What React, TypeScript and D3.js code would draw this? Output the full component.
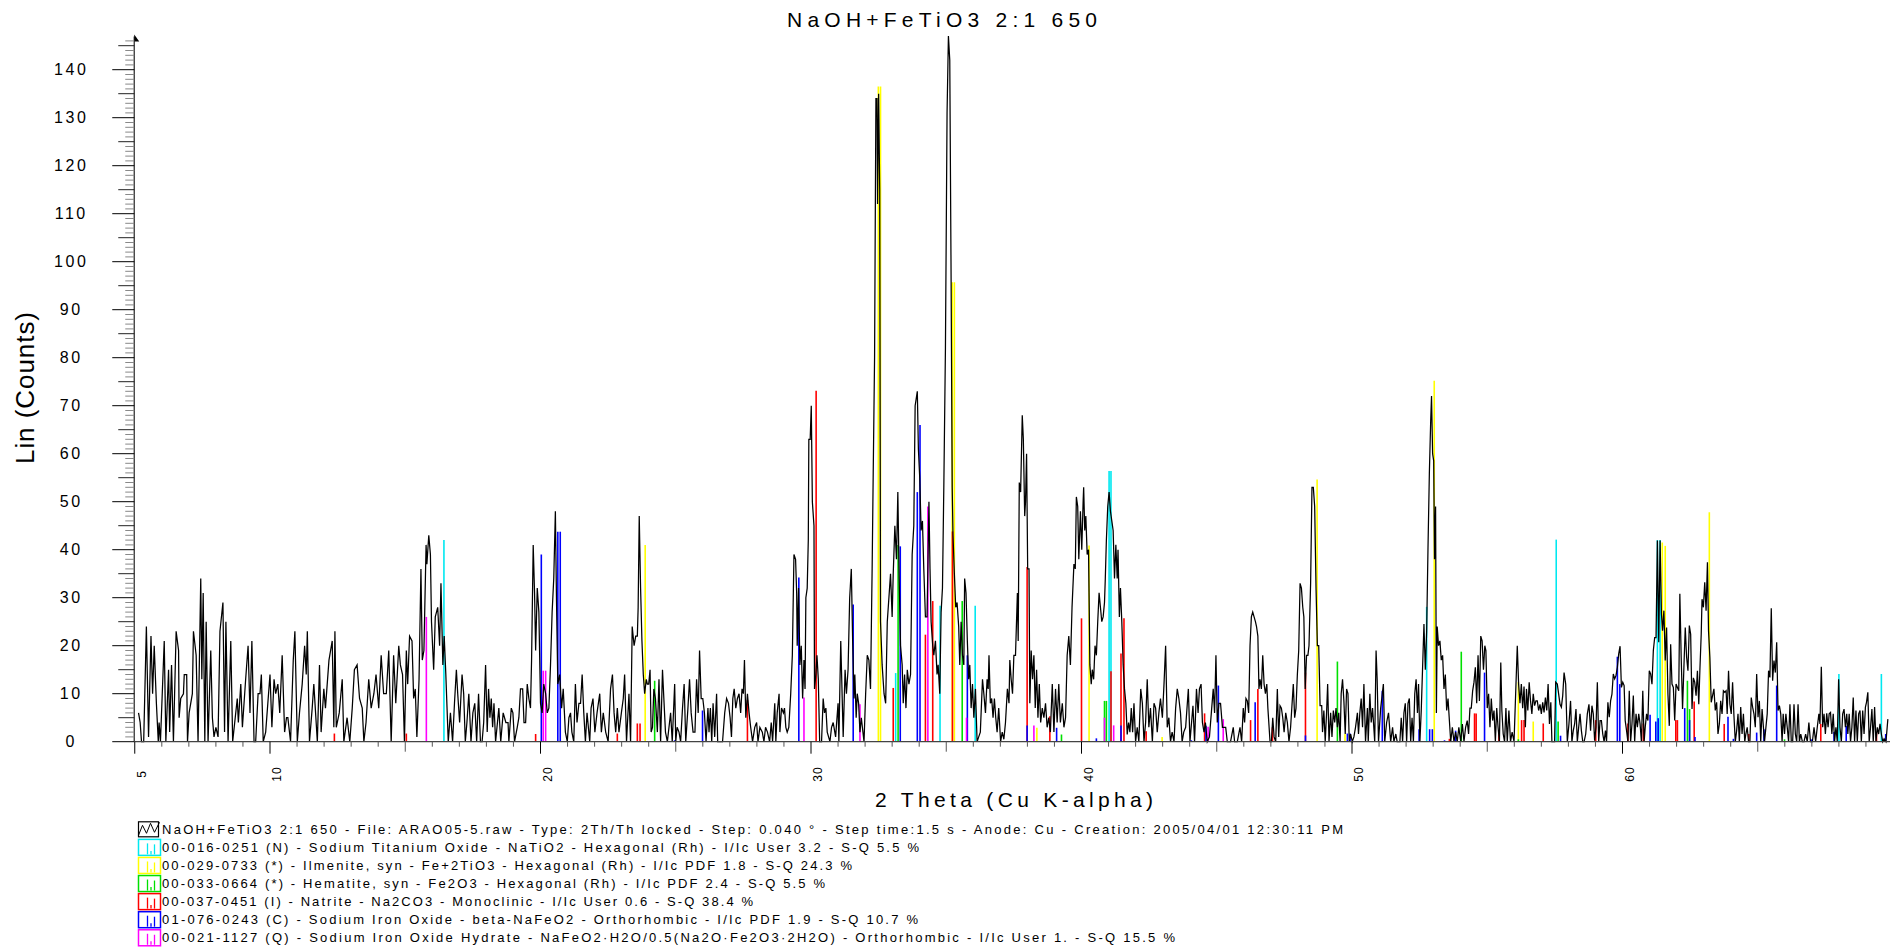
import React from "react";
import * as d3 from "d3";

const FONT = "'Liberation Sans', Arial, Helvetica, sans-serif";

// ---------- text ----------
const chartTitle = "NaOH+FeTiO3 2:1 650";
const xAxisTitle = "2 Theta (Cu K-alpha)";
const yAxisTitle = "Lin (Counts)";
const xTickLabels = [5, 10, 20, 30, 40, 50, 60];
const yTickLabels = [0, 10, 20, 30, 40, 50, 60, 70, 80, 90, 100, 110, 120, 130, 140];

// ---------- measured scan, [2-theta, counts] ----------
const scan05to18: [number, number][] = [
  [5.14, 6], [5.2, 4], [5.25, 0], [5.33, 0], [5.43, 24], [5.51, 1], [5.6, 22], [5.66, 10], [5.72, 20], [5.8, 8],
  [5.87, 0], [5.9, 4], [5.95, 0], [6.09, 21], [6.15, 0], [6.25, 15], [6.29, 2], [6.36, 16], [6.43, 0], [6.53, 23],
  [6.62, 19], [6.64, 5], [6.7, 9], [6.8, 10], [6.83, 14], [6.92, 14], [6.95, 0], [7.01, 6], [7.13, 10], [7.17, 23],
  [7.27, 18], [7.34, 0], [7.44, 34], [7.48, 13], [7.53, 31], [7.59, 0], [7.64, 25], [7.71, 0], [7.81, 19], [7.87, 5],
  [7.93, 1], [8.0, 3], [8.08, 1], [8.15, 23], [8.26, 29], [8.32, 2], [8.37, 25], [8.45, 0], [8.55, 21], [8.62, 0],
  [8.79, 9], [8.83, 4], [8.92, 12], [8.98, 3], [9.1, 13], [9.19, 20], [9.26, 6], [9.33, 21], [9.41, 0], [9.47, 0],
  [9.56, 10], [9.63, 10], [9.68, 14], [9.75, 0], [9.84, 2], [9.92, 8], [10.0, 14], [10.07, 3], [10.15, 13], [10.21, 10],
  [10.29, 12], [10.36, 6], [10.45, 18], [10.54, 2], [10.61, 5], [10.66, 5], [10.76, 0], [10.86, 17], [10.92, 23], [11.01, 0],
  [11.09, 6], [11.19, 12], [11.28, 20], [11.34, 14], [11.38, 23], [11.46, 0], [11.56, 7], [11.62, 12], [11.75, 0], [11.83, 16],
  [11.89, 2], [11.99, 11], [12.05, 7], [12.18, 17], [12.3, 21], [12.36, 3], [12.4, 23], [12.45, 3], [12.56, 6], [12.67, 13],
  [12.73, 0], [12.85, 5], [12.95, 0], [13.04, 7], [13.12, 15], [13.22, 16], [13.31, 9], [13.41, 7], [13.47, 0], [13.55, 4],
  [13.65, 13], [13.74, 7], [13.84, 10], [13.92, 14], [14.02, 7], [14.11, 18], [14.2, 10], [14.3, 10], [14.39, 19], [14.48, 0],
  [14.57, 18], [14.65, 8], [14.76, 20], [14.82, 16], [14.9, 14], [14.97, 0], [15.04, 19], [15.09, 12], [15.16, 22], [15.25, 21],
  [15.31, 9], [15.37, 11], [15.43, 1], [15.51, 13], [15.58, 36], [15.63, 17], [15.69, 19], [15.77, 41], [15.8, 37], [15.87, 43],
  [15.93, 39], [15.97, 25], [16.05, 15], [16.11, 26], [16.2, 28], [16.27, 20], [16.32, 33], [16.39, 16], [16.44, 22], [16.5, 14],
  [16.59, 0], [16.67, 6], [16.75, 0], [16.82, 8], [16.89, 15], [16.94, 10], [17.01, 4], [17.1, 14], [17.16, 10], [17.22, 0],
  [17.28, 4], [17.35, 10], [17.43, 0], [17.5, 6], [17.57, 8], [17.64, 0], [17.71, 10], [17.78, 0], [17.84, 0], [17.9, 4],
];

const scan18to31: [number, number][] = [
  [17.97, 16], [18.03, 2], [18.08, 11], [18.13, 5], [18.18, 9], [18.23, 3], [18.28, 8], [18.34, 0], [18.46, 7], [18.53, 0],
  [18.62, 6], [18.72, 4], [18.8, 4], [18.83, 0], [18.92, 7], [18.98, 6], [19.04, 0], [19.14, 3], [19.2, 5], [19.26, 11],
  [19.34, 11], [19.39, 4], [19.45, 4], [19.51, 12], [19.57, 9], [19.63, 7], [19.67, 17], [19.73, 41], [19.78, 31], [19.82, 19],
  [19.88, 32], [19.94, 27], [20.0, 8], [20.06, 6], [20.12, 12], [20.19, 10], [20.25, 6], [20.31, 7], [20.37, 16], [20.43, 27],
  [20.49, 34], [20.55, 48], [20.59, 30], [20.64, 12], [20.71, 14], [20.78, 7], [20.84, 11], [20.92, 2], [20.99, 0], [21.05, 5],
  [21.11, 6], [21.16, 2], [21.23, 0], [21.29, 12], [21.35, 4], [21.42, 8], [21.48, 8], [21.54, 14], [21.6, 6], [21.66, 0],
  [21.72, 6], [21.82, 0], [21.87, 7], [21.94, 9], [22.01, 2], [22.09, 6], [22.19, 10], [22.25, 2], [22.32, 6], [22.41, 2],
  [22.5, 0], [22.59, 11], [22.66, 14], [22.72, 6], [22.78, 2], [22.84, 7], [22.9, 2], [22.99, 6], [23.06, 9], [23.11, 14],
  [23.18, 0], [23.27, 10], [23.33, 0], [23.39, 24], [23.46, 20], [23.52, 22], [23.58, 22], [23.61, 28], [23.65, 47], [23.7, 32],
  [23.75, 21], [23.8, 14], [23.85, 10], [23.91, 13], [23.95, 12], [24.0, 12], [24.05, 15], [24.09, 2], [24.14, 3], [24.19, 11],
  [24.25, 9], [24.32, 2], [24.38, 13], [24.44, 0], [24.51, 15], [24.56, 9], [24.62, 2], [24.69, 0], [24.75, 3], [24.81, 6],
  [24.87, 0], [24.96, 12], [25.0, 0], [25.05, 3], [25.12, 2], [25.18, 0], [25.25, 7], [25.31, 12], [25.37, 0], [25.45, 7],
  [25.51, 13], [25.57, 6], [25.64, 2], [25.71, 2], [25.77, 13], [25.83, 6], [25.88, 19], [25.94, 9], [26.0, 9], [26.06, 6],
  [26.12, 0], [26.19, 7], [26.23, 2], [26.28, 7], [26.33, 0], [26.38, 8], [26.44, 1], [26.51, 10], [26.55, 0], [26.65, 0],
  [26.73, 0], [26.81, 6], [26.88, 9], [26.95, 8], [27.01, 5], [27.06, 1], [27.11, 9], [27.16, 11], [27.22, 7], [27.28, 9],
  [27.34, 10], [27.4, 6], [27.45, 11], [27.5, 10], [27.54, 17], [27.59, 5], [27.65, 10], [27.71, 6], [27.77, 3], [27.84, 0],
  [27.92, 3], [27.99, 4], [28.04, 0], [28.11, 3], [28.2, 2], [28.26, 0], [28.32, 3], [28.39, 2], [28.47, 0], [28.53, 4],
  [28.58, 0], [28.66, 8], [28.7, 0], [28.75, 6], [28.82, 10], [28.85, 2], [28.91, 7], [28.98, 6], [29.02, 7], [29.07, 3],
  [29.12, 2], [29.18, 3], [29.25, 10], [29.31, 18], [29.37, 39], [29.43, 38], [29.47, 31], [29.49, 20], [29.54, 32], [29.59, 16],
  [29.64, 20], [29.69, 9], [29.74, 17], [29.78, 11], [29.81, 30], [29.86, 32], [29.9, 42], [29.92, 63], [29.97, 63], [30.01, 70],
  [30.05, 50], [30.11, 45], [30.13, 11], [30.18, 14], [30.22, 18], [30.27, 13], [30.32, 0], [30.39, 0], [30.45, 9], [30.5, 6],
  [30.55, 7], [30.6, 2], [30.7, 0], [30.76, 3], [30.82, 4],
];

const scan31to44: [number, number][] = [
  [30.91, 1], [31.0, 8], [31.03, 0], [31.1, 21], [31.19, 1], [31.26, 15], [31.31, 10], [31.37, 15], [31.43, 30], [31.49, 36],
  [31.54, 21], [31.59, 9], [31.62, 14], [31.67, 5], [31.71, 10], [31.76, 8], [31.81, 2], [31.86, 5], [31.92, 2], [31.96, 0],
  [32.02, 10], [32.08, 18], [32.14, 17], [32.2, 11], [32.26, 36], [32.3, 56], [32.35, 80], [32.38, 113], [32.4, 134], [32.44, 134],
  [32.46, 112], [32.5, 135], [32.54, 115], [32.57, 25], [32.63, 16], [32.7, 10], [32.76, 8], [32.82, 25], [32.88, 30], [32.94, 35],
  [33.0, 26], [33.04, 35], [33.1, 45], [33.16, 38], [33.21, 52], [33.26, 34], [33.31, 20], [33.37, 16], [33.41, 8], [33.46, 14],
  [33.51, 7], [33.56, 15], [33.62, 12], [33.68, 14], [33.74, 39], [33.8, 45], [33.85, 70], [33.93, 73], [33.97, 61], [34.02, 55],
  [34.07, 44], [34.12, 46], [34.17, 36], [34.23, 26], [34.29, 26], [34.36, 50], [34.4, 36], [34.44, 25], [34.5, 20], [34.54, 18],
  [34.6, 21], [34.66, 14], [34.7, 16], [34.76, 10], [34.81, 27], [34.86, 32], [34.91, 53], [34.97, 82], [35.03, 131], [35.08, 147],
  [35.13, 142], [35.18, 96], [35.22, 53], [35.25, 43], [35.3, 35], [35.35, 28], [35.4, 29], [35.46, 24], [35.5, 16], [35.55, 25],
  [35.6, 18], [35.65, 16], [35.68, 34], [35.73, 31], [35.78, 21], [35.83, 13], [35.87, 16], [35.92, 7], [35.97, 12], [36.02, 5],
  [36.08, 11], [36.14, 0], [36.2, 1], [36.26, 2], [36.34, 13], [36.39, 10], [36.45, 6], [36.51, 13], [36.55, 11], [36.58, 18],
  [36.63, 8], [36.68, 9], [36.73, 5], [36.78, 9], [36.83, 5], [36.88, 2], [36.94, 7], [37.01, 0], [37.07, 2], [37.13, 0.5],
  [37.19, 4], [37.26, 11], [37.32, 8], [37.35, 17], [37.4, 13], [37.45, 10], [37.5, 18], [37.56, 18], [37.63, 31], [37.66, 21],
  [37.7, 54], [37.75, 52], [37.81, 68], [37.85, 63], [37.9, 47], [37.93, 50], [37.97, 60], [38.01, 36], [38.06, 36], [38.09, 8],
  [38.14, 19], [38.19, 13], [38.24, 18], [38.29, 7], [38.34, 15], [38.39, 5], [38.44, 12], [38.49, 4], [38.55, 7], [38.61, 5],
  [38.67, 8], [38.73, 3], [38.79, 5], [38.85, 2], [38.92, 12], [38.98, 2], [39.04, 11], [39.1, 4], [39.16, 12], [39.22, 4],
  [39.29, 8], [39.35, 3], [39.41, 5], [39.47, 18], [39.53, 22], [39.59, 16], [39.65, 28], [39.72, 37], [39.77, 36], [39.81, 51],
  [39.86, 49], [39.9, 38], [39.96, 48], [40.01, 40], [40.06, 50], [40.08, 53], [40.12, 44], [40.16, 47], [40.21, 39], [40.26, 40],
  [40.31, 16], [40.36, 12], [40.4, 15], [40.45, 13], [40.5, 20], [40.55, 18], [40.6, 25], [40.65, 31], [40.7, 28], [40.75, 25],
  [40.8, 26], [40.85, 29], [40.88, 34], [40.92, 42], [40.97, 49], [41.02, 52], [41.07, 48], [41.12, 46], [41.17, 44], [41.22, 34],
  [41.27, 41], [41.32, 34], [41.35, 40], [41.4, 26], [41.44, 32], [41.49, 25], [41.54, 16], [41.59, 11], [41.64, 8], [41.69, 1.5],
  [41.74, 4], [41.79, 2], [41.84, 7], [41.89, 2], [41.94, 8], [42.0, 0], [42.06, 3], [42.12, 0], [42.19, 11], [42.25, 8],
  [42.31, 0], [42.37, 4], [42.43, 13], [42.49, 3], [42.55, 7], [42.62, 0], [42.68, 8], [42.74, 7], [42.8, 2], [42.86, 6],
  [42.92, 9], [42.99, 5], [43.05, 12], [43.11, 20], [43.17, 3], [43.23, 5], [43.29, 0], [43.35, 2], [43.42, 0], [43.48, 7],
  [43.54, 11], [43.6, 9], [43.66, 6], [43.72, 0], [43.78, 2],
];

const scan44to57: [number, number][] = [
  [43.85, 3], [43.95, 11], [44.01, 0], [44.12, 7.5], [44.18, 0], [44.25, 11], [44.31, 6], [44.36, 11], [44.42, 12], [44.47, 4],
  [44.53, 2], [44.58, 4], [44.65, 0], [44.73, 1], [44.8, 6], [44.87, 11], [44.92, 6], [44.97, 18], [45.02, 4], [45.08, 8],
  [45.14, 8], [45.21, 3], [45.27, 3], [45.33, 3], [45.39, 0], [45.51, 0], [45.61, 3], [45.66, 0], [45.76, 0], [45.86, 3],
  [45.92, 0], [45.98, 7], [46.03, 4], [46.08, 9], [46.13, 8.5], [46.18, 6], [46.23, 20], [46.28, 26], [46.33, 27], [46.38, 26],
  [46.43, 25], [46.47, 24], [46.52, 22], [46.56, 11], [46.6, 13], [46.65, 11], [46.7, 18], [46.75, 12], [46.8, 10], [46.85, 12],
  [46.89, 7], [46.97, 0], [47.02, 0], [47.07, 5], [47.12, 1], [47.18, 0], [47.24, 11], [47.29, 1], [47.34, 7.5], [47.39, 7],
  [47.44, 5], [47.49, 2], [47.55, 6], [47.61, 4], [47.67, 0], [47.73, 3], [47.78, 7.5], [47.83, 12], [47.88, 5], [47.93, 7],
  [47.98, 14], [48.03, 19], [48.08, 33], [48.13, 32], [48.18, 28], [48.22, 26], [48.27, 11], [48.32, 18], [48.37, 18], [48.41, 20],
  [48.47, 33], [48.52, 53], [48.57, 53], [48.62, 49], [48.67, 32], [48.72, 20], [48.77, 20], [48.82, 7.5], [48.88, 7.5], [48.91, 2],
  [48.96, 6.5], [49.01, 0], [49.06, 6], [49.1, 12], [49.15, 0], [49.21, 6], [49.26, 1], [49.31, 6.5], [49.36, 4], [49.41, 7],
  [49.46, 3], [49.51, 6], [49.56, 0], [49.6, 10], [49.65, 13], [49.7, 8.5], [49.75, 1.6], [49.8, 11], [49.85, 10], [49.9, 0],
  [49.95, 1.6], [50.01, 0], [50.07, 1], [50.13, 3], [50.2, 6], [50.24, 1.6], [50.29, 6], [50.34, 9], [50.39, 3], [50.44, 12],
  [50.5, 0], [50.57, 7], [50.6, 0], [50.66, 10], [50.71, 4], [50.76, 7], [50.84, 0], [50.89, 19], [50.93, 13], [50.98, 0],
  [51.06, 7], [51.12, 10], [51.16, 12], [51.21, 0], [51.28, 4], [51.35, 6], [51.43, 0], [51.5, 3], [51.55, 0], [51.62, 1.6],
  [51.67, 0], [51.77, 0], [51.82, 5], [51.87, 0], [51.92, 6], [51.97, 8], [52.02, 0], [52.07, 8], [52.12, 9], [52.17, 0],
  [52.22, 5], [52.27, 0], [52.32, 10], [52.37, 13], [52.42, 6], [52.46, 12], [52.51, 0], [52.56, 6.5], [52.61, 15.5], [52.66, 24.5],
  [52.71, 15], [52.76, 23], [52.81, 40.5], [52.86, 56], [52.91, 67], [52.94, 72], [52.98, 60], [53.02, 58.5], [53.05, 38], [53.09, 49],
  [53.12, 6], [53.15, 24], [53.2, 20], [53.25, 21], [53.3, 17], [53.35, 18], [53.4, 11], [53.45, 14], [53.5, 6.5], [53.55, 9],
  [53.6, 4.4], [53.65, 0], [53.71, 3], [53.77, 0], [53.83, 2], [53.89, 0], [53.95, 3], [54.02, 0], [54.08, 3.7], [54.14, 0],
  [54.2, 3], [54.26, 4.4], [54.31, 1.6], [54.36, 7], [54.41, 7], [54.46, 10.6], [54.51, 12.4], [54.56, 15.5], [54.61, 8], [54.66, 18],
  [54.71, 8.5], [54.76, 22], [54.81, 21], [54.86, 15], [54.91, 20], [54.95, 19], [55.0, 7], [55.05, 10], [55.1, 3], [55.15, 9],
  [55.2, 4.4], [55.25, 6.5], [55.3, 0], [55.35, 7], [55.4, 3], [55.45, 0], [55.5, 16.5], [55.54, 6.5], [55.59, 1.6], [55.64, 0],
  [55.69, 7], [55.74, 0], [55.8, 6.5], [55.86, 0], [55.92, 2], [55.99, 0], [56.05, 10], [56.11, 20], [56.16, 12], [56.21, 8],
  [56.26, 12], [56.31, 7], [56.36, 11.5], [56.41, 3], [56.45, 11], [56.5, 6.5], [56.55, 12.4], [56.6, 8.5], [56.65, 5.8], [56.7, 10],
  [56.75, 7.5], [56.8, 8.5],
];

const scan57to70: [number, number][] = [
  [56.85, 8.5], [56.9, 6.5], [56.95, 7.8], [57.0, 5.8], [57.05, 8.2], [57.1, 6.1], [57.15, 9.2], [57.2, 6.5], [57.25, 12], [57.3, 3.7],
  [57.35, 8.2], [57.39, 0], [57.49, 0], [57.53, 12.4], [57.59, 12], [57.64, 9.9], [57.69, 7.8], [57.74, 7.2], [57.79, 9.6], [57.84, 14.4],
  [57.9, 12], [57.96, 0], [58.02, 3.7], [58.08, 8.5], [58.13, 0], [58.18, 2.3], [58.23, 3.7], [58.28, 6.8], [58.33, 0], [58.38, 3],
  [58.43, 5.8], [58.48, 2.3], [58.53, 0], [58.58, 0], [58.64, 1.6], [58.7, 5.8], [58.76, 7.8], [58.82, 2.3], [58.87, 7.5], [58.92, 5.8],
  [58.97, 0.2], [59.02, 3], [59.07, 12.4], [59.12, 0], [59.17, 4.4], [59.22, 4.4], [59.27, 1.6], [59.32, 0], [59.37, 2.3], [59.41, 0],
  [59.46, 8.2], [59.51, 5.1], [59.56, 8.5], [59.61, 9.9], [59.66, 14.1], [59.71, 13.1], [59.76, 13.8], [59.81, 15.5], [59.86, 18.3], [59.91, 19.9],
  [59.96, 11.3], [60.01, 12.4], [60.06, 11.7], [60.1, 4.4], [60.15, 2.3], [60.2, 0], [60.25, 10.6], [60.3, 0], [60.35, 3.7], [60.4, 9.6],
  [60.45, 0], [60.5, 5.8], [60.55, 3], [60.6, 5.8], [60.65, 3.7], [60.7, 0], [60.75, 10.6], [60.8, 0], [60.84, 3], [60.89, 5.8],
  [60.94, 4.4], [60.99, 14.8], [61.04, 14.1], [61.09, 12], [61.14, 19], [61.19, 21.7], [61.24, 21.7], [61.29, 41.9], [61.34, 20.7], [61.39, 41.9],
  [61.44, 26.6], [61.48, 23.1], [61.53, 27.3], [61.58, 16.9], [61.63, 23.8], [61.68, 9.9], [61.73, 3.3], [61.78, 20.3], [61.83, 12], [61.88, 11.3],
  [61.93, 4.4], [61.98, 12], [62.03, 11.3], [62.08, 10.6], [62.12, 30.8], [62.17, 17.6], [62.22, 6.8], [62.27, 15.5], [62.32, 23.8], [62.37, 17.6],
  [62.42, 14.8], [62.47, 24.2], [62.52, 22.4], [62.57, 6.8], [62.62, 13.3], [62.67, 12.4], [62.72, 9.6], [62.77, 14.8], [62.82, 7.8], [62.86, 14.8],
  [62.91, 22.4], [62.94, 29.7], [62.99, 28], [63.04, 33.2], [63.09, 27.3], [63.14, 37.4], [63.18, 23.1], [63.23, 17.6], [63.28, 8.2], [63.33, 9.6],
  [63.38, 11], [63.43, 6.5], [63.48, 8.2], [63.53, 1.6], [63.58, 3.7], [63.63, 8.5], [63.68, 5.8], [63.73, 10.6], [63.78, 10.3], [63.83, 10.6],
  [63.87, 5.8], [63.92, 14.8], [63.97, 7.8], [64.02, 5.8], [64.07, 12.4], [64.12, 5.4], [64.17, 0], [64.22, 2.3], [64.27, 5.8], [64.32, 0],
  [64.37, 7.2], [64.42, 1.6], [64.47, 5.8], [64.52, 0], [64.56, 1.6], [64.61, 3], [64.66, 0], [64.71, 0], [64.76, 9.2], [64.81, 7.2],
  [64.86, 5.8], [64.91, 3], [64.96, 14.1], [65.01, 5.1], [65.06, 8.5], [65.11, 0], [65.16, 6.8], [65.21, 3], [65.25, 0], [65.35, 5.8],
  [65.4, 14.8], [65.45, 13.4], [65.5, 27.8], [65.55, 12.7], [65.6, 16.9], [65.65, 14.4], [65.7, 20.7], [65.75, 6.5], [65.8, 7.5], [65.85, 5.8],
  [65.9, 0], [65.94, 5.8], [65.99, 1.6], [66.04, 5.8], [66.09, 3], [66.14, 0], [66.19, 7.8], [66.24, 0], [66.29, 0], [66.34, 7.8],
  [66.39, 1.6], [66.44, 0], [66.49, 7.8], [66.54, 0], [66.59, 1.6], [66.65, 0], [66.71, 0], [66.77, 1.6], [66.83, 0], [66.89, 4],
  [66.95, 0], [67.02, 0], [67.08, 3], [67.14, 0], [67.2, 3], [67.26, 5.8], [67.3, 3.7], [67.35, 15.6], [67.4, 3], [67.45, 5.8],
  [67.5, 1.6], [67.55, 5.9], [67.6, 3], [67.64, 5.8], [67.69, 6.1], [67.74, 1.6], [67.79, 5.8], [67.84, 0], [67.89, 3], [67.94, 0],
  [67.99, 13], [68.04, 3], [68.09, 0], [68.14, 5.8], [68.19, 6.8], [68.24, 3], [68.29, 5.8], [68.33, 1.6], [68.38, 5.8], [68.43, 0],
  [68.48, 3], [68.53, 9.2], [68.58, 0], [68.63, 6.5], [68.68, 0], [68.73, 5.8], [68.78, 6.5], [68.83, 0], [68.88, 6.5], [68.93, 1.6],
  [68.98, 7.2], [69.02, 8.2], [69.07, 10.3], [69.12, 0], [69.17, 3], [69.22, 6.8], [69.27, 0], [69.32, 7.2], [69.37, 0], [69.42, 3],
  [69.47, 1.6], [69.52, 3.7], [69.57, 1.6], [69.62, 0], [69.67, 0.6], [69.74, 0], [69.81, 4.7],
];

// ---------- reference pattern sticks, [2-theta, counts] ----------
const sticksNaTiO2: [number, number][] = [
  [16.43, 42], [33.13, 14.3], [34.77, 28.3], [36.07, 28.3], [41.02, 56.4], [41.09, 56.4], [52.76, 28.1],
  [57.55, 42.1], [61.29, 42], [61.39, 42], [68.0, 14.1], [69.57, 14.1],
];
const sticksIlmenite: [number, number][] = [
  [23.87, 41], [32.49, 136.5], [32.57, 136.5], [35.22, 95.7], [35.3, 95.7], [38.35, 2.9], [40.28, 40.9],
  [42.98, 1], [48.71, 54.6], [49.74, 1.6], [53.04, 75.2], [56.15, 12.4], [56.7, 4.2], [61.47, 41.5],
  [61.58, 40.8], [63.21, 47.8],
];
const sticksHematite: [number, number][] = [
  [24.22, 12.7], [33.22, 41], [35.59, 29.3], [39.26, 1.5], [40.85, 8.5], [40.92, 8.5], [49.46, 16.7],
  [54.04, 18.75], [56.15, 0.5], [57.62, 4.2], [62.4, 12.7], [62.48, 6.8], [65.99, 0.5],
];
const sticksNatrite: [number, number][] = [
  [12.38, 1.7], [15.04, 1.7], [19.82, 1.6], [22.84, 1.7], [23.58, 3.8], [23.68, 3.8], [27.65, 8.7],
  [30.19, 73.1], [33.04, 11.2], [34.23, 22.3], [34.5, 29.3], [35.23, 43.8], [37.99, 36.4], [38.83, 5.3],
  [40.0, 25.7], [41.09, 14.7], [41.46, 18.4], [41.57, 25.7], [42.39, 2.2], [44.55, 5.9], [46.25, 4.5],
  [46.52, 11], [47.06, 3], [48.28, 14.4], [53.6, 0.6], [54.53, 5.9], [54.59, 5.9], [55.43, 2.3],
  [56.27, 4.5], [56.36, 4.5], [57.07, 3.8], [59.01, 4.5], [60.2, 3.8], [60.77, 3.8], [61.97, 4.5],
  [62.03, 4.5], [62.65, 8.4], [63.76, 3.7], [64.67, 1.6], [67.33, 3.7], [69.39, 2],
];
const sticksBetaNaFeO2: [number, number][] = [
  [20.03, 39], [20.64, 43.75], [20.73, 43.75], [24.96, 0.3], [25.99, 6.5], [29.55, 34.2], [31.56, 28.6],
  [33.3, 40.7], [33.93, 52], [34.03, 66], [35.78, 18], [37.99, 3.4], [39.08, 2.9], [40.55, 0.7],
  [41.46, 3.4], [44.06, 0.3], [44.6, 3.3], [45.06, 11.7], [46.42, 8.2], [48.28, 1.3], [49.83, 1.7],
  [49.93, 1.7], [51.12, 10.6], [52.48, 2.6], [52.87, 2.6], [52.97, 2.6], [53.42, 0.3], [53.83, 2.3],
  [54.9, 14.4], [57.71, 1.25], [59.81, 17.7], [59.9, 12], [61.02, 5.6], [61.23, 4.2], [61.32, 4.9],
  [62.3, 7], [62.48, 4.5], [62.68, 1], [63.9, 5.2], [64.1, 0.6], [64.96, 1.9], [65.23, 2.6],
  [65.7, 11.7], [66.99, 0.5], [67.82, 2], [68.27, 3.3], [69.73, 1.6],
];
const sticksNaFeO2Hydrate: [number, number][] = [
  [15.78, 26], [20.1, 14.8], [20.19, 14.8], [29.74, 9.2], [31.81, 7.8], [34.32, 49], [35.75, 5],
  [38.24, 3.4], [40.85, 5], [41.19, 3.4], [44.68, 3.1], [45.24, 4.7],
];

// ---------- legend ----------
const scanLegend =
  "NaOH+FeTiO3 2:1 650 - File: ARAO05-5.raw - Type: 2Th/Th locked - Step: 0.040 ° - Step time:1.5 s - Anode: Cu - Creation: 2005/04/01 12:30:11 PM";
const phaseLegend = [
  "00-016-0251 (N) - Sodium Titanium Oxide - NaTiO2 - Hexagonal (Rh) - I/Ic User 3.2 - S-Q 5.5 %",
  "00-029-0733 (*) - Ilmenite, syn - Fe+2TiO3 - Hexagonal (Rh) - I/Ic PDF 1.8 - S-Q 24.3 %",
  "00-033-0664 (*) - Hematite, syn - Fe2O3 - Hexagonal (Rh) - I/Ic PDF 2.4 - S-Q 5.5 %",
  "00-037-0451 (I) - Natrite - Na2CO3 - Monoclinic - I/Ic User 0.6 - S-Q 38.4 %",
  "01-076-0243 (C) - Sodium Iron Oxide - beta-NaFeO2 - Orthorhombic - I/Ic PDF 1.9 - S-Q 10.7 %",
  "00-021-1127 (Q) - Sodium Iron Oxide Hydrate - NaFeO2·H2O/0.5(Na2O·Fe2O3·2H2O) - Orthorhombic - I/Ic User 1. - S-Q 15.5 %",
];
const phaseSticks = [
  sticksNaTiO2, sticksIlmenite, sticksHematite, sticksNatrite, sticksBetaNaFeO2, sticksNaFeO2Hydrate,
];

// ---------- styling ----------
const phaseColors = ["#00e8f0", "#ffff00", "#00e000", "#ff0000", "#0000ff", "#ff00ff"];
const legendTextWidths = [1181, 757, 690, 663, 591, 756, 1013];

const W = 1890;
const H = 948;

export default function App() {
  const x = d3.scaleLinear().domain([5, 70]).range([134.75, 1893]);
  const y = d3.scaleLinear().domain([0, 140]).range([741.7, 69.7]);
  const axisX = x(5) - 0.5;
  const yTop = 146.5;

  const scan = [...scan05to18, ...scan18to31, ...scan31to44, ...scan44to57, ...scan57to70].sort(
    (a, b) => a[0] - b[0]
  );
  const linePath = d3
    .line<[number, number]>()
    .x((d) => x(d[0]))
    .y((d) => y(d[1]))(scan) as string;

  const yMinor = d3.range(0, Math.floor(yTop) + 1);
  const xMinor = d3.range(5, 70);

  const legendRowY = (i: number) => 829.3 + i * 18.08;
  const boxX = 138.5;
  const textX = 162;

  return (
    <svg
      width={W}
      height={H}
      viewBox={`0 0 ${W} ${H}`}
      style={{ position: "absolute", left: 0, top: 0, display: "block", background: "#fff" }}
      fontFamily={FONT}
    >
      <rect x={0} y={0} width={W} height={H} fill="#fff" />

      {/* title */}
      <text
        x={942}
        y={27}
        fontSize={21}
        textAnchor="middle"
        textLength={310}
        lengthAdjust="spacing"
        fill="#000"
      >
        {chartTitle}
      </text>

      {/* pattern sticks */}
      <g>
        {phaseSticks.map((sticks, pi) =>
          sticks.map((s, si) => (
            <line
              key={`s${pi}-${si}`}
              x1={x(s[0])}
              x2={x(s[0])}
              y1={y(0)}
              y2={y(s[1])}
              stroke={phaseColors[pi]}
              strokeWidth={1.6}
            />
          ))
        )}
      </g>

      {/* scan */}
      <path d={linePath} fill="none" stroke="#000" strokeWidth={1.25} />

      {/* y axis */}
      <g>
        <line x1={axisX} x2={axisX} y1={y(0)} y2={y(yTop) - 2} stroke="#333" strokeWidth={1.3} />
        <polygon
          points={`${axisX},${y(yTop) - 4} ${axisX},${y(yTop) + 3} ${axisX + 5},${y(yTop) + 3}`}
          fill="#000"
        />
        {yMinor.map((v) => {
          const major = v % 10 === 0;
          const mid = !major && v % 5 === 0;
          const len = major ? 22 : mid ? 16 : 9;
          return (
            <line
              key={`yt${v}`}
              x1={axisX - len}
              x2={axisX}
              y1={y(v)}
              y2={y(v)}
              stroke={major ? "#000" : mid ? "#222" : "#888"}
              strokeWidth={1}
            />
          );
        })}
        {yTickLabels.map((v) => (
          <text
            key={`yl${v}`}
            x={71.2}
            y={y(v) + 5.5}
            fontSize={16}
            letterSpacing={2.5}
            textAnchor="middle"
            fill="#000"
          >
            {v}
          </text>
        ))}
        <text
          transform={`translate(33.5, 388) rotate(-90)`}
          fontSize={26}
          textAnchor="middle"
          textLength={152}
          lengthAdjust="spacing"
          fill="#000"
        >
          {yAxisTitle}
        </text>
      </g>

      {/* x axis */}
      <g>
        <line x1={axisX} x2={W} y1={y(0)} y2={y(0)} stroke="#444" strokeWidth={1.2} />
        {xMinor.map((v) => {
          const major = v % 10 === 0 || v === 5;
          const mid = !major && v % 5 === 0;
          const len = major ? 12 : mid ? 10 : 5;
          return (
            <line
              key={`xt${v}`}
              x1={x(v)}
              x2={x(v)}
              y1={y(0)}
              y2={y(0) + len}
              stroke={major ? "#000" : "#555"}
              strokeWidth={1}
            />
          );
        })}
        {xTickLabels.map((v) => (
          <text
            key={`xl${v}`}
            transform={`translate(${x(v) + 11}, 774) rotate(-90)`}
            fontSize={12}
            letterSpacing={1}
            textAnchor="middle"
            fill="#000"
          >
            {v}
          </text>
        ))}
        <text
          x={1014}
          y={806.5}
          fontSize={21}
          textAnchor="middle"
          textLength={278}
          lengthAdjust="spacing"
          fill="#000"
        >
          {xAxisTitle}
        </text>
      </g>

      {/* legend */}
      <g>
        {(() => {
          const cy = legendRowY(0);
          return (
            <g>
              <rect x={boxX} y={cy - 7.5} width={20} height={15} fill="none" stroke="#000" strokeWidth={1.2} />
              <polyline
                points={`${boxX},${cy + 6} ${boxX + 4},${cy - 4} ${boxX + 8},${cy + 4} ${boxX + 12},${cy - 6} ${boxX + 16},${cy + 3} ${boxX + 21},${cy - 7}`}
                fill="none"
                stroke="#000"
                strokeWidth={1}
              />
              <text
                x={textX}
                y={cy + 4.6}
                fontSize={13}
                textLength={legendTextWidths[0]}
                lengthAdjust="spacing"
                fill="#000"
              >
                {scanLegend}
              </text>
            </g>
          );
        })()}
        {phaseLegend.map((label, i) => {
          const cy = legendRowY(i + 1);
          const c = phaseColors[i];
          const bottom = cy + 7;
          return (
            <g key={`lg${i}`}>
              <rect x={boxX} y={cy - 8} width={22} height={16} fill="none" stroke={c} strokeWidth={1.5} />
              <line x1={boxX + 9} x2={boxX + 9} y1={bottom} y2={bottom - 11} stroke={c} strokeWidth={1.3} />
              <line x1={boxX + 12.5} x2={boxX + 12.5} y1={bottom} y2={bottom - 3.5} stroke={c} strokeWidth={1.3} />
              <line x1={boxX + 16} x2={boxX + 16} y1={bottom} y2={bottom - 10} stroke={c} strokeWidth={1.3} />
              <text
                x={textX}
                y={cy + 4.6}
                fontSize={13}
                textLength={legendTextWidths[i + 1]}
                lengthAdjust="spacing"
                fill="#000"
              >
                {label}
              </text>
            </g>
          );
        })}
      </g>
    </svg>
  );
}
